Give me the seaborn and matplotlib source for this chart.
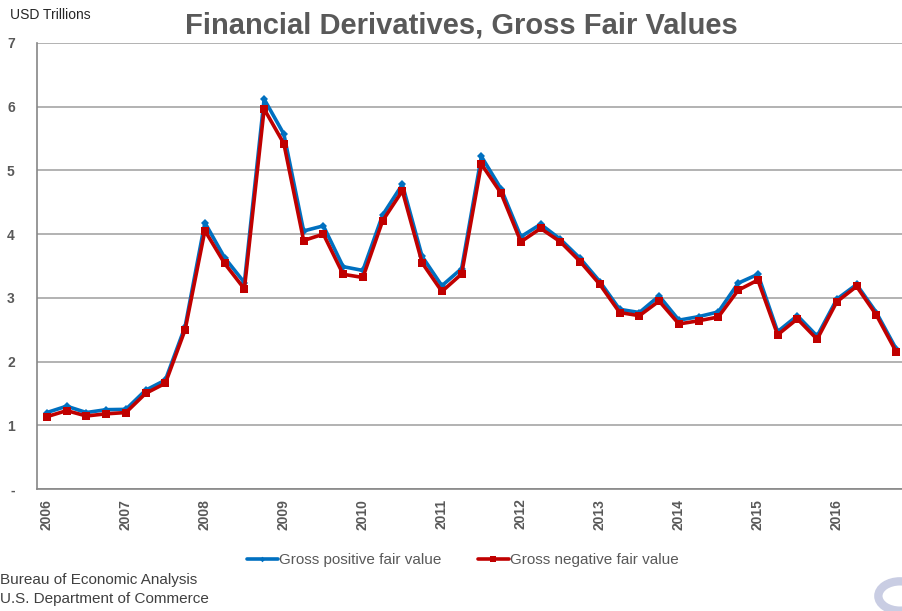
import numpy as np
import pandas as pd
import seaborn as sns
import matplotlib.pyplot as plt
from matplotlib.patches import Circle

# quarterly values, 2006Q1 .. 2016Q4 (USD trillions)
years = list(range(2006, 2017))
positive = [1.20, 1.30, 1.20, 1.245, 1.25, 1.55, 1.71, 2.55,
            4.18, 3.63, 3.24, 6.12, 5.57, 4.05, 4.13, 3.49,
            3.43, 4.30, 4.78, 3.65, 3.19, 3.46, 5.22, 4.71,
            3.96, 4.155, 3.92, 3.62, 3.255, 2.82, 2.77, 3.03,
            2.65, 2.705, 2.78, 3.23, 3.37, 2.47, 2.72, 2.40,
            2.98, 3.21, 2.77, 2.20]
negative = [1.135, 1.23, 1.146, 1.18, 1.20, 1.50, 1.66, 2.50,
            4.055, 3.54, 3.14, 5.965, 5.42, 3.90, 4.00, 3.37,
            3.32, 4.21, 4.68, 3.55, 3.10, 3.375, 5.10, 4.64,
            3.88, 4.09, 3.88, 3.57, 3.21, 2.77, 2.72, 2.95,
            2.59, 2.64, 2.70, 3.12, 3.28, 2.42, 2.67, 2.35,
            2.94, 3.18, 2.73, 2.155]

df = pd.DataFrame({'q': np.arange(len(positive)), 'pos': positive, 'neg': negative})

sns.set_style('white')
plt.rcParams['font.family'] = ['Liberation Sans', 'DejaVu Sans']

grey = '#595959'
fig = plt.figure(figsize=(9.02, 6.11), dpi=100)
ax = fig.add_axes([37 / 902, 1 - 489 / 611, 869 / 902, 446 / 611])

sns.lineplot(data=df, x='q', y='pos', ax=ax, color='#0070C0', lw=2.6,
             marker='D', markersize=4, markeredgewidth=0,
             label='Gross positive fair value')
sns.lineplot(data=df, x='q', y='neg', ax=ax, color='#C00000', lw=2.6,
             marker='s', markersize=6, markeredgewidth=0,
             label='Gross negative fair value')

ax.set_xlim(-0.5, len(positive) - 0.5)
ax.set_ylim(0, 7)
ax.set_yticks(range(8))
ax.set_yticklabels(['-'] + [str(i) for i in range(1, 8)])
ax.yaxis.grid(True, color='#a6a6a6', lw=1.2)
ax.set_xticks(np.arange(0, len(positive), 4))
ax.set_xticklabels([str(y) for y in years], rotation=90)
ax.set_xticks(np.arange(-0.5, len(positive), 1), minor=True)
ax.tick_params(axis='x', which='major', length=0, pad=7)
ax.tick_params(axis='x', which='minor', length=5, color='#868686', direction='out')
ax.tick_params(axis='y', length=4, color='#868686', direction='out', pad=12)
for lab in ax.get_xticklabels() + ax.get_yticklabels():
    lab.set_fontweight('bold')
    lab.set_fontsize(10)
    lab.set_color(grey)
for s in ['top', 'right']:
    ax.spines[s].set_visible(False)
for s in ['left', 'bottom']:
    ax.spines[s].set_color('#868686')
    ax.spines[s].set_linewidth(1.2)
ax.set_xlabel('')
ax.set_ylabel('')

leg = ax.legend(loc='center', bbox_to_anchor=(463 / 902, 1 - 560 / 611),
                bbox_transform=fig.transFigure, ncol=2, frameon=False,
                fontsize=11, handlelength=2.0, handletextpad=0.1,
                columnspacing=2.4, markerscale=0.7)
for t in leg.get_texts():
    t.set_color(grey)

fig.text(461 / 902, 1 - 25 / 611, 'Financial Derivatives, Gross Fair Values',
         ha='center', va='center', fontsize=21, fontweight='bold', color=grey)
fig.text(10 / 902, 1 - 15 / 611, 'USD Trillions', ha='left', va='center',
         fontsize=10, color='#262626')
fig.text(0.5 / 902, 1 - 580 / 611, 'Bureau of Economic Analysis', ha='left',
         va='center', fontsize=11, color='#404040')
fig.text(0.5 / 902, 1 - 599 / 611, 'U.S. Department of Commerce', ha='left',
         va='center', fontsize=11, color='#404040')

# faint logo fragment at bottom right
fig.patches.append(Circle((900 / 902, 1 - 596 / 611), 0.024, transform=fig.transFigure,
                          fill=False, lw=6, color='#c9cde3'))

fig.savefig('out.png', dpi=100)
